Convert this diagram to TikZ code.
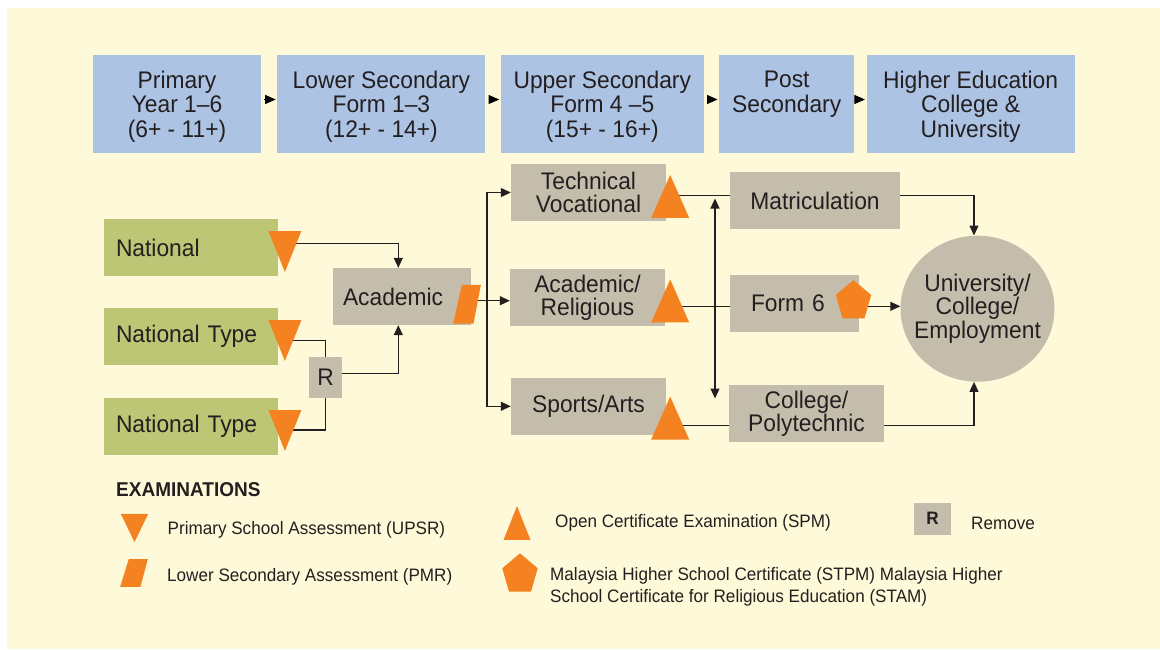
\documentclass[tikz,border=0pt]{standalone}
\usepackage{fontspec}
\setmainfont{Liberation Sans}[FakeStretch=0.95]
\usetikzlibrary{positioning, arrows.meta, shapes.geometric}

\definecolor{cream}{HTML}{FEF9D8}
\definecolor{stageblue}{HTML}{ADC3E3}
\definecolor{schoolgreen}{HTML}{BCC674}
\definecolor{pathgray}{HTML}{C4BDAB}
\definecolor{examorange}{HTML}{F58220}
\definecolor{inkgray}{HTML}{231F20}

\begin{document}
\begin{tikzpicture}
  [x=1pt, y=1pt, inner sep=0pt, text=inkgray,
   stage/.style={fill=stageblue, minimum height=98pt, text depth=-3pt, align=center, font=\fontsize{24}{24.5}\selectfont},
   school/.style={fill=schoolgreen, minimum height=57pt, text width=150pt, inner xsep=12pt, align=left, font=\fontsize{24}{24}\selectfont},
   track/.style={fill=pathgray, minimum width=155pt, minimum height=57pt, align=center, font=\fontsize{24}{23}\selectfont},
   link/.style={draw=inkgray, line width=1.2pt},
   tip/.style={-{Triangle[length=10pt,width=9pt]}},
   legend/.style={anchor=west, align=left, font=\fontsize{18}{22.3}\selectfont},
   upsr/.pic={\fill[examorange] (-16.5,20.5) -- (16.5,20.5) -- (0,-20.5) -- cycle;},
   spm/.pic={\fill[examorange] (-19,-21.5) -- (19,-21.5) -- (0,21.5) -- cycle;},
   pmr/.pic={\fill[examorange] (-5.2,19.4) -- (13.8,19.4) -- (6.4,-19.4) -- (-13.9,-19.4) -- cycle;},
   stpm/.pic={\fill[examorange] (0,19.2) -- (17.7,4.2) -- (11,-19.1) -- (-11,-19.1) -- (-17.7,4.2) -- cycle;}]

   \useasboundingbox (0,0) rectangle (1160,-649);
   \fill[cream] (7,-8) rectangle (1160,-649);

   % stages
   \node[stage, minimum width=168pt] (primary) at (177,-104) {Primary\\Year 1–6\\(6+ - 11+)};
   \node[stage, minimum width=208pt, right=16pt of primary] (lowsec) {Lower Secondary\\Form 1–3\\(12+ - 14+)};
   \node[stage, minimum width=203pt, right=15pt of lowsec] (upsec) {Upper Secondary\\Form 4 –5\\(15+ - 16+)};
   \node[stage, minimum width=135pt, right=15pt of upsec] (postsec) {Post\\Secondary\\\mbox{}};
   \node[stage, minimum width=208pt, right=12pt of postsec] (higher) {Higher Education\\College \&\\University};

   \foreach \a/\b in {primary/lowsec, lowsec/upsec, upsec/postsec, postsec/higher}
     \draw[line width=0.8pt, -{Triangle[length=10.5pt,width=9pt]}, shorten <=3pt, shorten >=1.5pt]
       ([yshift=4.5pt]\a.east) -- ([yshift=4.5pt]\b.west);

   % schools
   \node[school] (national) at (191,-247.5) {National};
   \node[school] (ntype1) at (191,-336.5) {National Type};
   \node[school] (ntype2) at (191,-426.5) {National Type};
   \node[track, minimum width=33pt, minimum height=41pt] (remove) at (325.5,-377.3) {R};
   \node[track, minimum width=138pt, text width=118pt, inner xsep=10pt, align=left] (academic) at (402,-296.5) {Academic};

   % streams
   \node[track] (tech) at (588.5,-192.5) {Technical\\Vocational};
   \node[track] (relig) at (587.5,-297.3) {Academic/\\Religious};
   \node[track] (sports) at (588.5,-406.3) {Sports/Arts};
   \node[track, minimum width=170pt] (matric) at (815,-200.5) {Matriculation};
   \node[track, minimum width=129pt, text width=87pt, inner xsep=21pt, align=left] (form6) at (794.5,-303.3) {Form 6};
   \node[track] (college) at (806.5,-413.5) {College/\\Polytechnic};
   \node[ellipse, fill=pathgray, minimum width=154pt, minimum height=146pt, inner xsep=-20pt,
         align=center, font=\fontsize{24}{22}\selectfont] (univ) at (977.5,-308.7) {University/\\College/\\Employment};

   \coordinate (split) at (487,-300.7);
   \coordinate (techout) at ([yshift=-3.2pt]tech.east);
   \coordinate (religout) at ([yshift=-9.4pt]relig.east);
   \coordinate (sportsout) at ([yshift=-19.4pt]sports.east);
   \coordinate (form6out) at ([yshift=-3pt]form6.east);
   \coordinate (swaptop) at (715,-198.5);
   \coordinate (swapbot) at (715,-398.5);

   \draw[link, tip] ([yshift=3.8pt]national.east) -| ([xshift=-3.7pt]academic.north);
   \draw[link] ([yshift=-4.2pt]ntype1.east) -| (remove.north);
   \draw[link] ([yshift=-3.5pt]ntype2.east) -| (remove.south);
   \draw[link, tip] ([yshift=3.6pt]remove.east) -| ([xshift=-3.7pt]academic.south);
   \draw[link] ([yshift=-4.2pt]academic.east) -- (split);
   \draw[link, tip] (split) |- (tech.west);
   \draw[link, tip] (split) -- (split -| relig.west);
   \draw[link, tip] (split) |- (sports.west);
   \draw[link] (techout) -- (techout -| matric.west);
   \draw[link] (religout) -- (religout -| form6.west);
   \draw[link] (sportsout) -- (sportsout -| college.west);
   \draw[link, {Triangle[length=10pt,width=9pt]}-{Triangle[length=10pt,width=9pt]}] (swaptop) -- (swapbot);
   \draw[link, tip] ([yshift=4.8pt]matric.east) -| ([xshift=-3.5pt]univ.north);
   \draw[link, tip] (form6out) -- (form6out -| univ.west);
   \draw[link, tip] ([yshift=-12.2pt]college.east) -| ([xshift=-3.5pt]univ.south);

   % exam marks
   \pic at ([xshift=6.7pt,yshift=-4pt]national.east) {upsr};
   \pic at ([xshift=6.7pt,yshift=-4pt]ntype1.east) {upsr};
   \pic at ([xshift=6.7pt,yshift=-4pt]ntype2.east) {upsr};
   \pic at ([xshift=-4.1pt,yshift=-7.8pt]academic.east) {pmr};
   \pic at ([xshift=4pt,yshift=-3.9pt]tech.east) {spm};
   \pic at ([xshift=5pt,yshift=-3.6pt]relig.east) {spm};
   \pic at ([xshift=4pt,yshift=-11.7pt]sports.east) {spm};
   \pic at ([xshift=-5.7pt,yshift=4.1pt]form6.east) {stpm};

   % legend
   \node[anchor=west, font=\bfseries\fontsize{20}{20}\selectfont] (examhead) at (116,-490) {EXAMINATIONS};
   \pic[xscale=0.83, yscale=0.69] at (134.5,-528) {upsr};
   \node[legend] (upsrtext) at (167.5,-529.5) {Primary School Assessment (UPSR)};
   \pic[yscale=0.72] at (134,-573) {pmr};
   \node[legend] (pmrtext) at (167,-577.3) {Lower Secondary Assessment (PMR)};
   \pic[xscale=0.71, yscale=0.79] at (517,-523) {spm};
   \node[legend] (spmtext) at (555,-523.3) {Open Certificate Examination (SPM)};
   \node[fill=pathgray, minimum width=37pt, minimum height=32pt, font=\bfseries\fontsize{18}{18}\selectfont] (removekey) at (932.5,-518.5) {R};
   \node[legend] (removetext) at (971,-523) {Remove};
   \pic at (520,-572.5) {stpm};
   \node[legend] (stpmtext) at (550,-587) {Malaysia Higher School Certificate (STPM) Malaysia Higher\\School Certificate for Religious Education (STAM)};
\end{tikzpicture}
\end{document}
